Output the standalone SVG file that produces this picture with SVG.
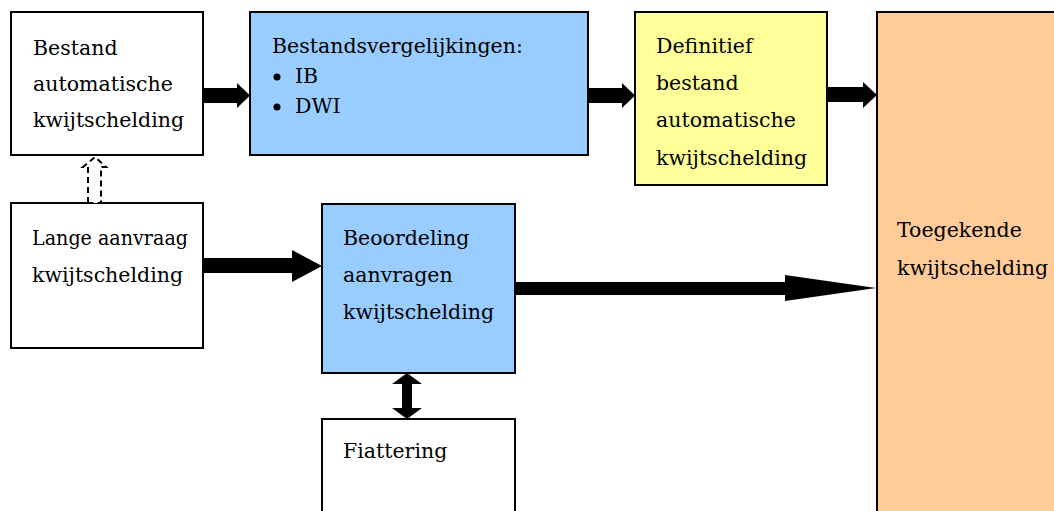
<svg xmlns="http://www.w3.org/2000/svg" width="1054" height="511" viewBox="0 0 1054 511">
<style>
.box{stroke:#000;stroke-width:2}
.t{font-family:"DejaVu Serif","Liberation Serif",serif;font-size:20.5px;fill:#000}
.arr{fill:#000;stroke:none}
</style>
<rect width="1054" height="511" fill="#fff"/>
<g id="n-bestand">
<rect class="box" x="11" y="12" width="192" height="143" fill="#fff"/>
<text class="t" x="33" y="55">Bestand</text>
<text class="t" x="33" y="91">automatische</text>
<text class="t" x="33" y="127">kwijtschelding</text>
</g>
<g id="n-vergelijkingen">
<rect class="box" x="250" y="12" width="338" height="143" fill="#99CCFF"/>
<text class="t" x="272" y="53">Bestandsvergelijkingen:</text>
<circle cx="277" cy="77" r="3.5" fill="#000"/>
<text class="t" x="295" y="83">IB</text>
<circle cx="277" cy="107" r="3.5" fill="#000"/>
<text class="t" x="295" y="113">DWI</text>
</g>
<g id="n-definitief">
<rect class="box" x="635" y="12" width="192" height="173" fill="#FFFF99"/>
<text class="t" x="656" y="53">Definitief</text>
<text class="t" x="656" y="90">bestand</text>
<text class="t" x="656" y="127">automatische</text>
<text class="t" x="656" y="165">kwijtschelding</text>
</g>
<g id="n-toegekend">
<rect class="box" x="877" y="12" width="200" height="520" fill="#FFCC99"/>
<text class="t" x="897" y="237">Toegekende</text>
<text class="t" x="897" y="275">kwijtschelding</text>
</g>
<g id="n-lange">
<rect class="box" x="11" y="203" width="192" height="145" fill="#fff"/>
<text class="t" x="32" y="245" textLength="156" lengthAdjust="spacingAndGlyphs">Lange aanvraag</text>
<text class="t" x="32" y="282">kwijtschelding</text>
</g>
<g id="n-beoordeling">
<rect class="box" x="322" y="204" width="193" height="169" fill="#99CCFF"/>
<text class="t" x="343" y="245">Beoordeling</text>
<text class="t" x="343" y="282">aanvragen</text>
<text class="t" x="343" y="319">kwijtschelding</text>
</g>
<g id="n-fiattering">
<rect class="box" x="322" y="419" width="193" height="110" fill="#fff"/>
<text class="t" x="343" y="458">Fiattering</text>
</g>
<g id="connectors">
<polygon class="arr" points="203,88 237,88 237,83 250,95.5 237,108 237,103 203,103"/>
<polygon class="arr" points="588,88 622,88 622,83 635,95.5 622,108 622,103 588,103"/>
<polygon class="arr" points="828,87 863,87 863,82 877,95 863,108 863,102 828,102"/>
<polygon class="arr" points="203,258 292,258 292,250 322,266 292,282 292,273 203,273"/>
<polygon class="arr" points="515,282 785,282 785,275 876,288 785,301 785,295 515,295"/>
<polygon class="arr" points="407,373 422,384 412,384 412,408 422,408 407,419 392,408 402,408 402,384 392,384"/>
<polygon points="88,203 88,167 83,167 95,157 106,167 101,167 101,203" fill="#fff" stroke="#000" stroke-width="2" stroke-dasharray="6,4"/>
</g>
</svg>
